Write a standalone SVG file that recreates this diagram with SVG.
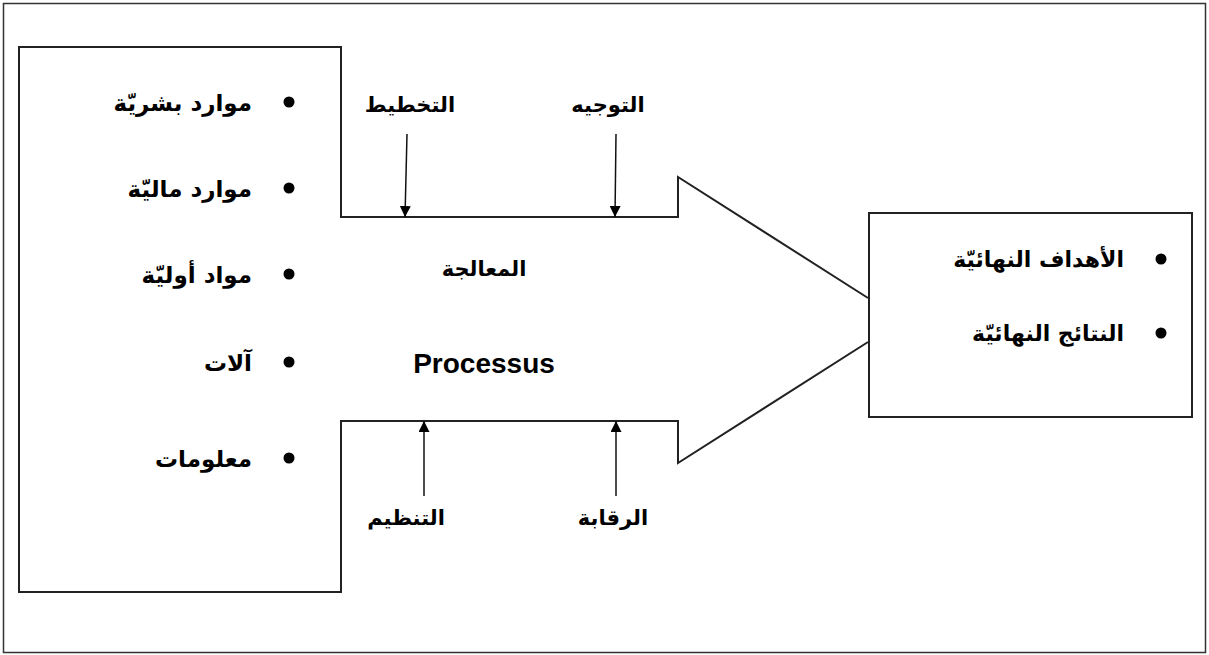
<svg xmlns="http://www.w3.org/2000/svg" width="1209" height="655" viewBox="0 0 1209 655">
<defs>
<marker id="ah" viewBox="0 0 10 10" refX="10" refY="5" markerWidth="11" markerHeight="11" markerUnits="userSpaceOnUse" orient="auto">
<path d="M0,0 L10,5 L0,10 z" fill="#000"/>
</marker>
<style>
.ar{font-family:"DejaVu Sans","Noto Sans",sans-serif;font-weight:bold;font-size:23px;fill:#000;text-anchor:end}
.arr{font-family:"DejaVu Sans","Noto Sans",sans-serif;font-weight:bold;font-size:22px;fill:#000;text-anchor:end}
.arc{font-family:"DejaVu Sans","Noto Sans",sans-serif;font-weight:bold;font-size:21px;fill:#000;text-anchor:middle}
.lat{font-family:"Liberation Sans",Arial,sans-serif;font-weight:bold;font-size:28px;fill:#000;text-anchor:middle}
.shape{fill:none;stroke:#222;stroke-width:2}
.conn{stroke:#111;stroke-width:1.5;fill:none}
.dot{fill:#000}
</style>
</defs>
<rect x="0" y="0" width="1209" height="655" fill="#fff"/>
<rect x="3.5" y="3.5" width="1202" height="649" fill="none" stroke="#333" stroke-width="1.5"/>
<g id="process-shape">
<path class="shape" d="M868,298 L678,177 L678,217 L341,217 L341,47 L19,47 L19,592 L341,592 L341,421 L678,421 L678,463 L868,342"/>
</g>
<g id="inputs">
<circle class="dot" cx="289" cy="102" r="5.5"/>
<text class="ar" x="252" y="111">موارد بشريّة</text>
<circle class="dot" cx="289" cy="188" r="5.5"/>
<text class="ar" x="252" y="197">موارد ماليّة</text>
<circle class="dot" cx="289" cy="274" r="5.5"/>
<text class="ar" x="252" y="283">مواد أوليّة</text>
<circle class="dot" cx="289" cy="362" r="5.5"/>
<text class="ar" x="252" y="371">آلات</text>
<circle class="dot" cx="289" cy="458" r="5.5"/>
<text class="ar" x="252" y="467">معلومات</text>
</g>
<g id="processing">
<text class="arc" x="484" y="276">المعالجة</text>
<text class="lat" x="484" y="373">Processus</text>
</g>
<g id="outputs">
<rect x="869" y="213" width="323" height="204" fill="#fff" stroke="#222" stroke-width="2"/>
<circle class="dot" cx="1161" cy="259" r="5.5"/>
<text class="arr" x="1124" y="267">الأهداف النهائيّة</text>
<circle class="dot" cx="1161" cy="333" r="5.5"/>
<text class="arr" x="1124" y="341">النتائج النهائيّة</text>
</g>
<g id="label-planning"><text class="arc" x="410" y="112">التخطيط</text></g>
<g id="label-directing"><text class="arc" x="608" y="112">التوجيه</text></g>
<g id="label-organizing"><text class="arc" x="406" y="525">التنظيم</text></g>
<g id="label-control"><text class="arc" x="613" y="525">الرقابة</text></g>
<g id="connectors">
<line class="conn" x1="407" y1="134" x2="405" y2="217" marker-end="url(#ah)"/>
<line class="conn" x1="616" y1="134" x2="615" y2="217" marker-end="url(#ah)"/>
<line class="conn" x1="424" y1="496" x2="424" y2="421" marker-end="url(#ah)"/>
<line class="conn" x1="616" y1="496" x2="616" y2="421" marker-end="url(#ah)"/>
</g>
</svg>
